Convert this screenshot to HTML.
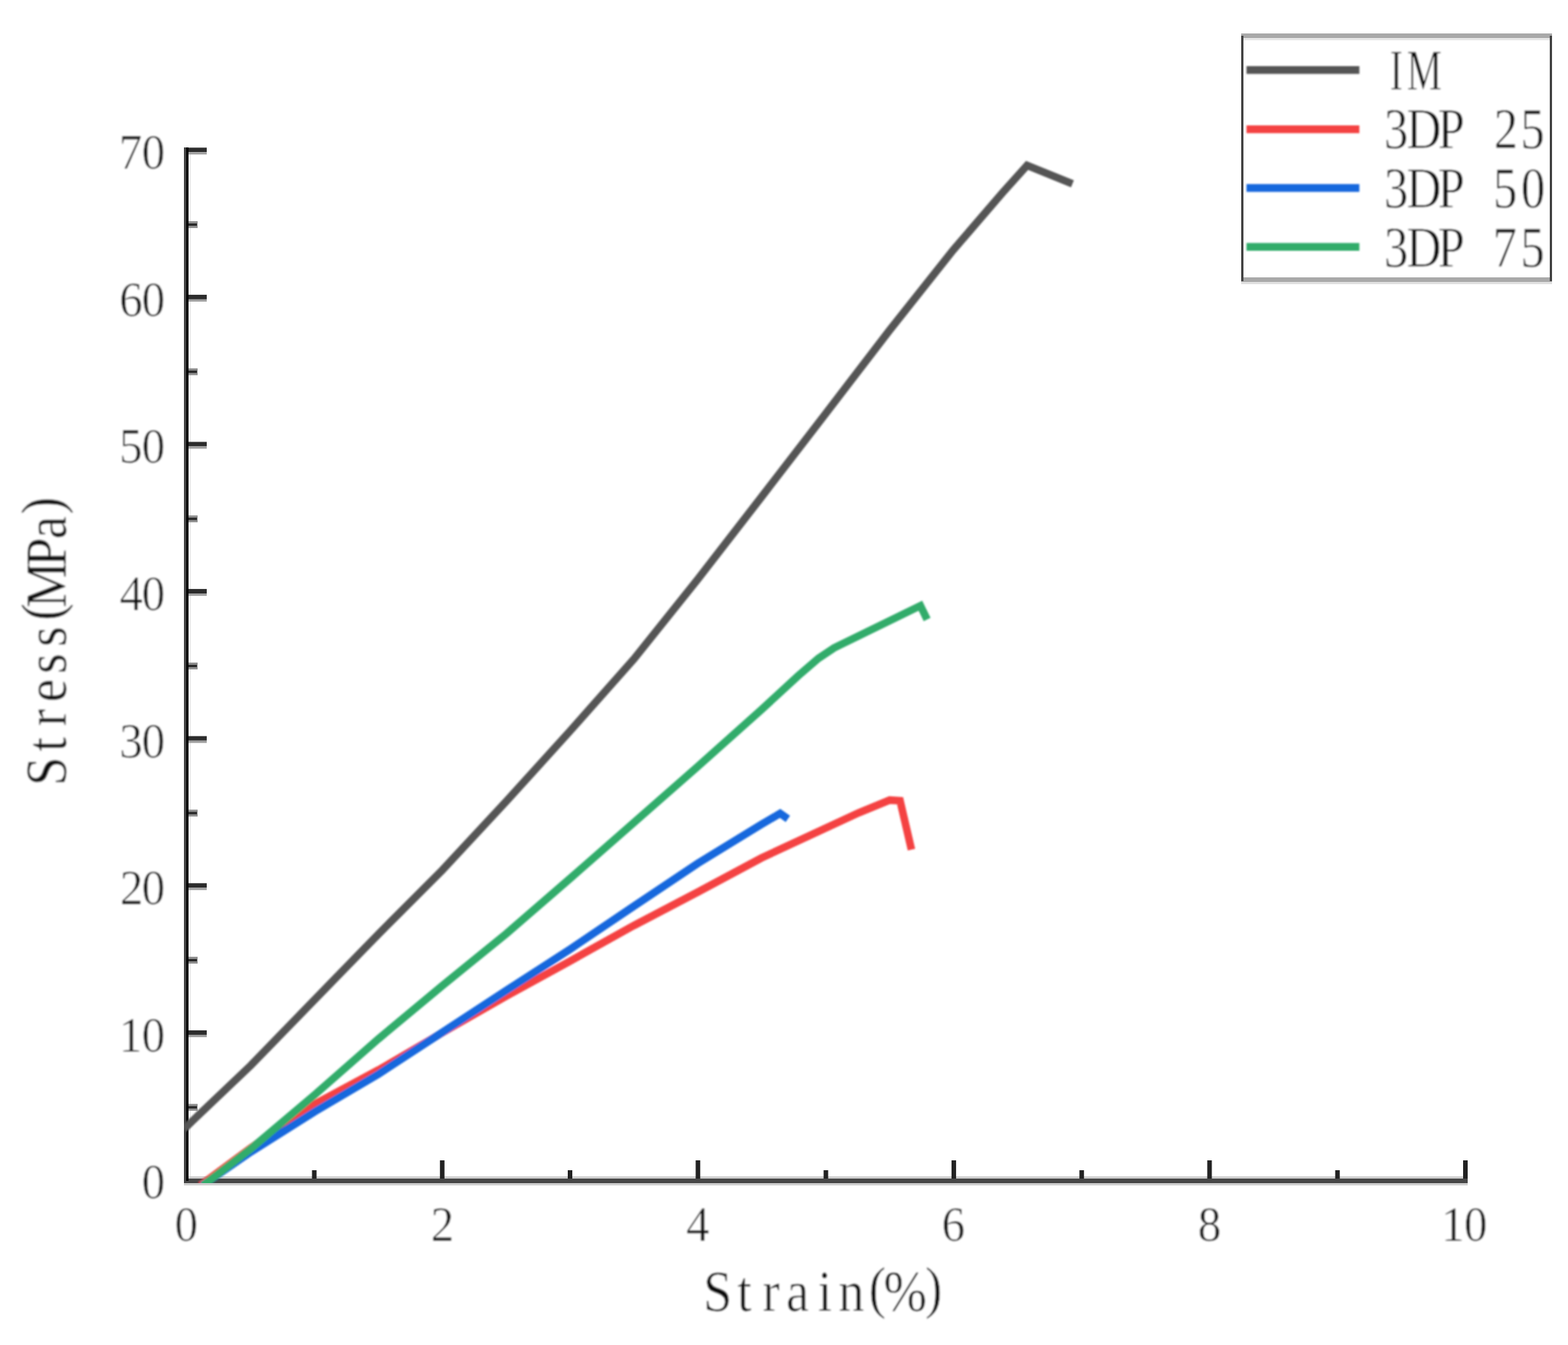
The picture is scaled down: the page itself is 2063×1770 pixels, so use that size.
<!DOCTYPE html>
<html lang="en"><head><meta charset="utf-8"><title>Stress-Strain curves</title>
<style>html,body{margin:0;padding:0;background:#fff}body{width:2063px;height:1770px;overflow:hidden}svg{display:block}text{font-family:"Liberation Serif",serif;fill:#111;stroke:#fff;stroke-width:0.7;vector-effect:non-scaling-stroke;stroke-linejoin:round}</style>
</head><body>
<svg width="2063" height="1770" viewBox="0 0 2063 1770">
<rect width="2063" height="1770" fill="#fff"/>
<g>
<rect x="248" y="1548" width="1683" height="3" fill="#cfcfcf"/>
<rect x="242" y="1557" width="1689" height="3" fill="#cfcfcf"/>
<rect x="248" y="200" width="3" height="1348" fill="#ededed"/>
<rect x="248" y="1355.9" width="24" height="6" fill="#2c2c2c"/><rect x="248" y="1361.9" width="24" height="3" fill="#a0a0a0"/>
<rect x="248" y="1162.3" width="24" height="6" fill="#2c2c2c"/><rect x="248" y="1168.3" width="24" height="3" fill="#a0a0a0"/>
<rect x="248" y="968.7" width="24" height="6" fill="#2c2c2c"/><rect x="248" y="974.7" width="24" height="3" fill="#a0a0a0"/>
<rect x="248" y="775.1" width="24" height="6" fill="#2c2c2c"/><rect x="248" y="781.1" width="24" height="3" fill="#a0a0a0"/>
<rect x="248" y="581.5" width="24" height="6" fill="#2c2c2c"/><rect x="248" y="587.5" width="24" height="3" fill="#a0a0a0"/>
<rect x="248" y="387.9" width="24" height="6" fill="#2c2c2c"/><rect x="248" y="393.9" width="24" height="3" fill="#a0a0a0"/>
<rect x="248" y="194.3" width="24" height="6" fill="#2c2c2c"/><rect x="248" y="200.3" width="24" height="3" fill="#a0a0a0"/>
<rect x="248" y="1452.7" width="12" height="9" fill="#8e8e8e"/><rect x="248" y="1455.7" width="11" height="3" fill="#262626"/>
<rect x="248" y="1259.1" width="12" height="9" fill="#8e8e8e"/><rect x="248" y="1262.1" width="11" height="3" fill="#262626"/>
<rect x="248" y="1065.5" width="12" height="9" fill="#8e8e8e"/><rect x="248" y="1068.5" width="11" height="3" fill="#262626"/>
<rect x="248" y="871.9" width="12" height="9" fill="#8e8e8e"/><rect x="248" y="874.9" width="11" height="3" fill="#262626"/>
<rect x="248" y="678.3" width="12" height="9" fill="#8e8e8e"/><rect x="248" y="681.3" width="11" height="3" fill="#262626"/>
<rect x="248" y="484.7" width="12" height="9" fill="#8e8e8e"/><rect x="248" y="487.7" width="11" height="3" fill="#262626"/>
<rect x="248" y="291.1" width="12" height="9" fill="#8e8e8e"/><rect x="248" y="294.1" width="11" height="3" fill="#262626"/>
<rect x="578.8" y="1527" width="6" height="25" fill="#222"/>
<rect x="915.3" y="1527" width="6" height="25" fill="#222"/>
<rect x="1251.9" y="1527" width="6" height="25" fill="#222"/>
<rect x="1588.4" y="1527" width="6" height="25" fill="#222"/>
<rect x="1925.0" y="1527" width="6" height="25" fill="#222"/>
<rect x="410.5" y="1540" width="6" height="12" fill="#222"/>
<rect x="747.0" y="1540" width="6" height="12" fill="#222"/>
<rect x="1083.6" y="1540" width="6" height="12" fill="#222"/>
<rect x="1420.2" y="1540" width="6" height="12" fill="#222"/>
<rect x="1756.7" y="1540" width="6" height="12" fill="#222"/>
<rect x="242" y="1551" width="1689" height="6" fill="#474747"/>
<rect x="242" y="194" width="3" height="1363" fill="#444"/>
<rect x="245" y="194" width="3" height="1360" fill="#000"/>
</g>
<defs><clipPath id="plotclip"><rect x="242" y="0" width="1700" height="1557"/></clipPath><filter id="soft" filterUnits="userSpaceOnUse" x="0" y="0" width="2063" height="1770"><feGaussianBlur stdDeviation="1.1"/></filter><filter id="softt" filterUnits="userSpaceOnUse" x="0" y="0" width="2063" height="1770"><feGaussianBlur stdDeviation="0.9"/></filter></defs>
<g clip-path="url(#plotclip)"><g fill="none" stroke-width="10.0" stroke-linejoin="miter" stroke-miterlimit="6" stroke-linecap="butt" filter="url(#soft)">
<polyline stroke="#555555" points="242.0,1485.8 330.0,1402.0 414.0,1315.4 498.0,1229.2 582.0,1145.0 666.0,1054.7 750.0,962.0 834.0,867.3 918.0,762.4 1002.0,653.9 1086.0,544.7 1170.0,435.1 1254.0,329.2 1320.0,252.5 1351.3,217.6 1411.0,241.9"/>
<polyline stroke="#f44242" points="263.6,1560.0 271.5,1554.0 330.0,1510.5 414.0,1453.0 498.0,1408.0 582.0,1359.0 666.0,1311.0 750.0,1264.8 834.0,1218.0 918.0,1174.0 1002.0,1129.0 1130.0,1069.5 1170.7,1052.9 1184.2,1053.7 1199.2,1118.1"/>
<polyline stroke="#1967dd" points="266.0,1560.0 275.0,1554.0 330.0,1516.0 414.0,1463.0 498.0,1413.5 582.0,1358.5 666.0,1303.5 750.0,1249.2 834.0,1192.5 918.0,1136.3 1002.0,1084.8 1026.4,1070.5 1036.6,1077.6"/>
<polyline stroke="#30ac6b" points="267.2,1560.0 275.0,1554.0 330.0,1511.8 414.0,1440.8 498.0,1367.1 582.0,1297.1 666.0,1228.8 750.0,1156.1 834.0,1082.4 918.0,1008.8 1002.0,933.8 1050.0,889.5 1077.0,866.3 1097.5,852.5 1211.0,797.1 1219.8,815.2"/>
</g></g>
<g filter="url(#softt)">
<text transform="translate(186.62,1577.40) scale(1.0500,1.1100)" x="0.00" y="0" font-size="58.5">0</text>
<text transform="translate(156.51,1383.80) scale(1.0500,1.1100)" x="0.00 28.67" y="0" font-size="58.5">10</text>
<text transform="translate(157.71,1190.20) scale(1.0500,1.1100)" x="0.00 27.53" y="0" font-size="58.5">20</text>
<text transform="translate(157.10,996.60) scale(1.0500,1.1100)" x="0.00 28.11" y="0" font-size="58.5">30</text>
<text transform="translate(157.25,803.00) scale(1.0500,1.1100)" x="0.00 27.97" y="0" font-size="58.5">40</text>
<text transform="translate(156.78,609.40) scale(1.0500,1.1100)" x="0.00 28.41" y="0" font-size="58.5">50</text>
<text transform="translate(156.96,415.80) scale(1.0500,1.1100)" x="0.00 28.24" y="0" font-size="58.5">60</text>
<text transform="translate(156.23,222.20) scale(1.0500,1.1100)" x="0.00 28.94" y="0" font-size="58.5">70</text>
<text transform="translate(229.84,1632.80) scale(1.0500,1.1100)" x="0.00" y="0" font-size="58.5">0</text>
<text transform="translate(566.75,1632.80) scale(1.0500,1.1100)" x="0.00" y="0" font-size="58.5">2</text>
<text transform="translate(902.84,1632.80) scale(1.0500,1.1100)" x="0.00" y="0" font-size="58.5">4</text>
<text transform="translate(1239.12,1632.80) scale(1.0500,1.1100)" x="0.00" y="0" font-size="58.5">6</text>
<text transform="translate(1576.08,1632.80) scale(1.0500,1.1100)" x="0.00" y="0" font-size="58.5">8</text>
<text transform="translate(1896.16,1632.80) scale(1.0500,1.1100)" x="0.00 28.67" y="0" font-size="58.5">10</text>
<text transform="translate(925.31,1725.50) scale(0.9500,1.0500)" x="0.00 47.11 81.91 114.60 158.34 187.18 229.16 249.58 307.05" y="0.00 0.00 0.00 0.00 0.00 0.00 -5.71 0.00 -5.71" font-size="72">Strain(%)</text>
<text transform="translate(86.00,1032.75) rotate(-90) scale(0.9500,1.0500)" x="-1.51 45.91 81.03 114.65 153.97 191.34 227.48 245.11 302.22 340.35 374.75" y="0.00 0.00 0.00 0.00 0.00 0.00 -5.71 0.00 0.00 0.00 -5.71" font-size="72">Stress(MPa)</text>
</g>
<g>
<rect x="1633" y="44" width="409" height="6" fill="#a9a9a9"/>
<rect x="1633" y="50" width="409" height="3" fill="#e6e6e6"/>
<rect x="1633" y="365" width="409" height="6" fill="#a9a9a9"/>
<rect x="1633" y="371" width="409" height="3" fill="#e0e0e0"/>
<rect x="1633" y="47" width="3" height="323" fill="#444"/>
<rect x="2039" y="47" width="3" height="323" fill="#444"/>
</g>
<g fill="none" stroke-width="10.2" filter="url(#soft)">
<line x1="1640" y1="92.2" x2="1788.5" y2="92.2" stroke="#555555"/>
<line x1="1640" y1="170.2" x2="1788.5" y2="170.2" stroke="#f44242"/>
<line x1="1640" y1="247.3" x2="1788.5" y2="247.3" stroke="#1967dd"/>
<line x1="1640" y1="324.9" x2="1788.5" y2="324.9" stroke="#30ac6b"/>
</g>
<g filter="url(#softt)">
<text transform="translate(1828.54,117.50) scale(0.7200,1.0450)" x="0.00 31.14" y="0" font-size="72">IM</text>
<text transform="translate(1820.88,195.00) scale(0.8800,1.0700)" x="0.00 33.63 80.52 120.56 164.36 204.18" y="0" font-size="72">3DP 25</text>
<text transform="translate(1820.88,273.00) scale(0.8800,1.0700)" x="0.00 33.63 80.52 120.56 163.27 204.86" y="0" font-size="72">3DP 50</text>
<text transform="translate(1820.88,351.00) scale(0.8800,1.0700)" x="0.00 33.63 80.52 120.56 162.62 204.18" y="0" font-size="72">3DP 75</text>
</g>
</svg>
</body></html>
